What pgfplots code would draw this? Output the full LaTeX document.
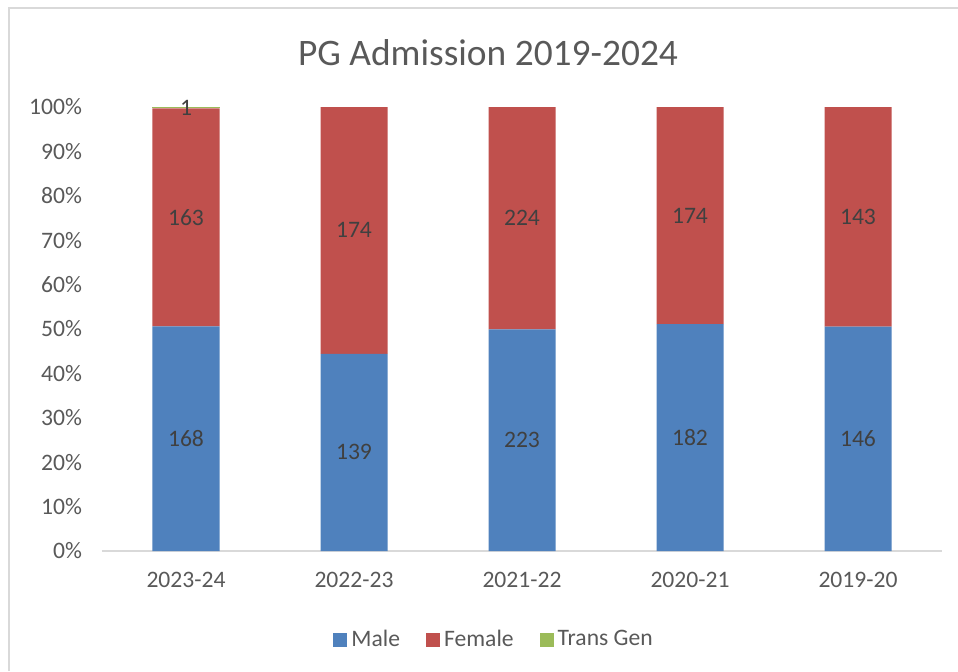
\documentclass[border=0pt]{standalone}
\usepackage{pgfplots}
\pgfplotsset{compat=1.18}
\usepackage{pgfplotstable}
\usepackage{fontspec}
\setmainfont{Carlito}
\definecolor{male}{HTML}{4F81BD}
\definecolor{female}{HTML}{C0504D}
\definecolor{trans}{HTML}{9BBB59}
\definecolor{tick}{HTML}{595959}
\definecolor{lab}{HTML}{404040}
\definecolor{grid}{HTML}{D9D9D9}

\pgfplotstableread{
x male female trans
0 50.60 49.10 0.30
1 44.41 55.59 0
2 49.89 50.11 0
3 51.12 48.88 0
4 50.52 49.48 0
}\pcttable

\pgfplotstableread{
x y n
0 25.30 168
0 75.15 163
0 99.85 1
1 22.21 139
1 72.21 174
2 24.95 223
2 74.95 224
3 25.56 182
3 75.56 174
4 25.26 146
4 75.26 143
}\labtable

\begin{document}
\begin{tikzpicture}
\useasboundingbox (-51pt,-60pt) rectangle (428pt,275.5pt);
\draw[grid, line width=1.2pt] (-46.5pt,-60pt) -- (-46.5pt,271.5pt) -- (428pt,271.5pt);
\node[text=tick, font=\fontsize{18.7}{22}\selectfont] at (193pt,249pt) {PG Admission 2019-2024};
\begin{axis}[
  at={(0,0)}, anchor=south west,
  scale only axis, width=420pt, height=222pt,
  ybar stacked, bar width=33.5pt,
  xmin=-0.5, xmax=4.5, ymin=0, ymax=100,
  xtick={0,1,2,3,4},
  xticklabels={2023-24,2022-23,2021-22,2020-21,2019-20},
  ytick={0,10,...,100},
  yticklabel={\pgfmathprintnumber{\tick}\%},
  /pgf/number format/assume math mode=true,
  tick label style={text=tick, font=\fontsize{11.8}{14}\selectfont},
  xticklabel style={yshift=-7pt},
  yticklabel style={xshift=-6.5pt},
  major tick length=0pt,
  axis x line*=bottom, axis y line*=left,
  x axis line style={grid, line width=0.8pt, -},
  y axis line style={draw=none},
  legend columns=3,
  legend style={draw=none, fill=none, at={(0.468,-0.200)}, anchor=center,
    font=\fontsize{11.8}{14}\selectfont, text=tick,
    /tikz/every even column/.append style={column sep=11pt},
    inner sep=0pt},
  legend image code/.code={\fill[#1] (0pt,-3.5pt) rectangle (7pt,3.5pt);},
]
\addplot[fill=male, draw=none] table[x=x, y=male] {\pcttable};
\addlegendentry{Male}
\addplot[fill=female, draw=none] table[x=x, y=female] {\pcttable};
\addlegendentry{Female}
\addplot[fill=trans, draw=none] table[x=x, y=trans] {\pcttable};
\addlegendentry{Trans Gen}
\end{axis}
\begin{axis}[
  at={(0,0)}, anchor=south west,
  scale only axis, width=420pt, height=222pt,
  xmin=-0.5, xmax=4.5, ymin=0, ymax=100,
  hide axis,
]
\addplot[draw=none, mark=none, nodes near coords, point meta=explicit symbolic,
  every node near coord/.append style={anchor=center, text=lab, font=\fontsize{11.8}{14}\selectfont}]
  table[x=x, y=y, meta=n] {\labtable};
\end{axis}
\end{tikzpicture}
\end{document}
